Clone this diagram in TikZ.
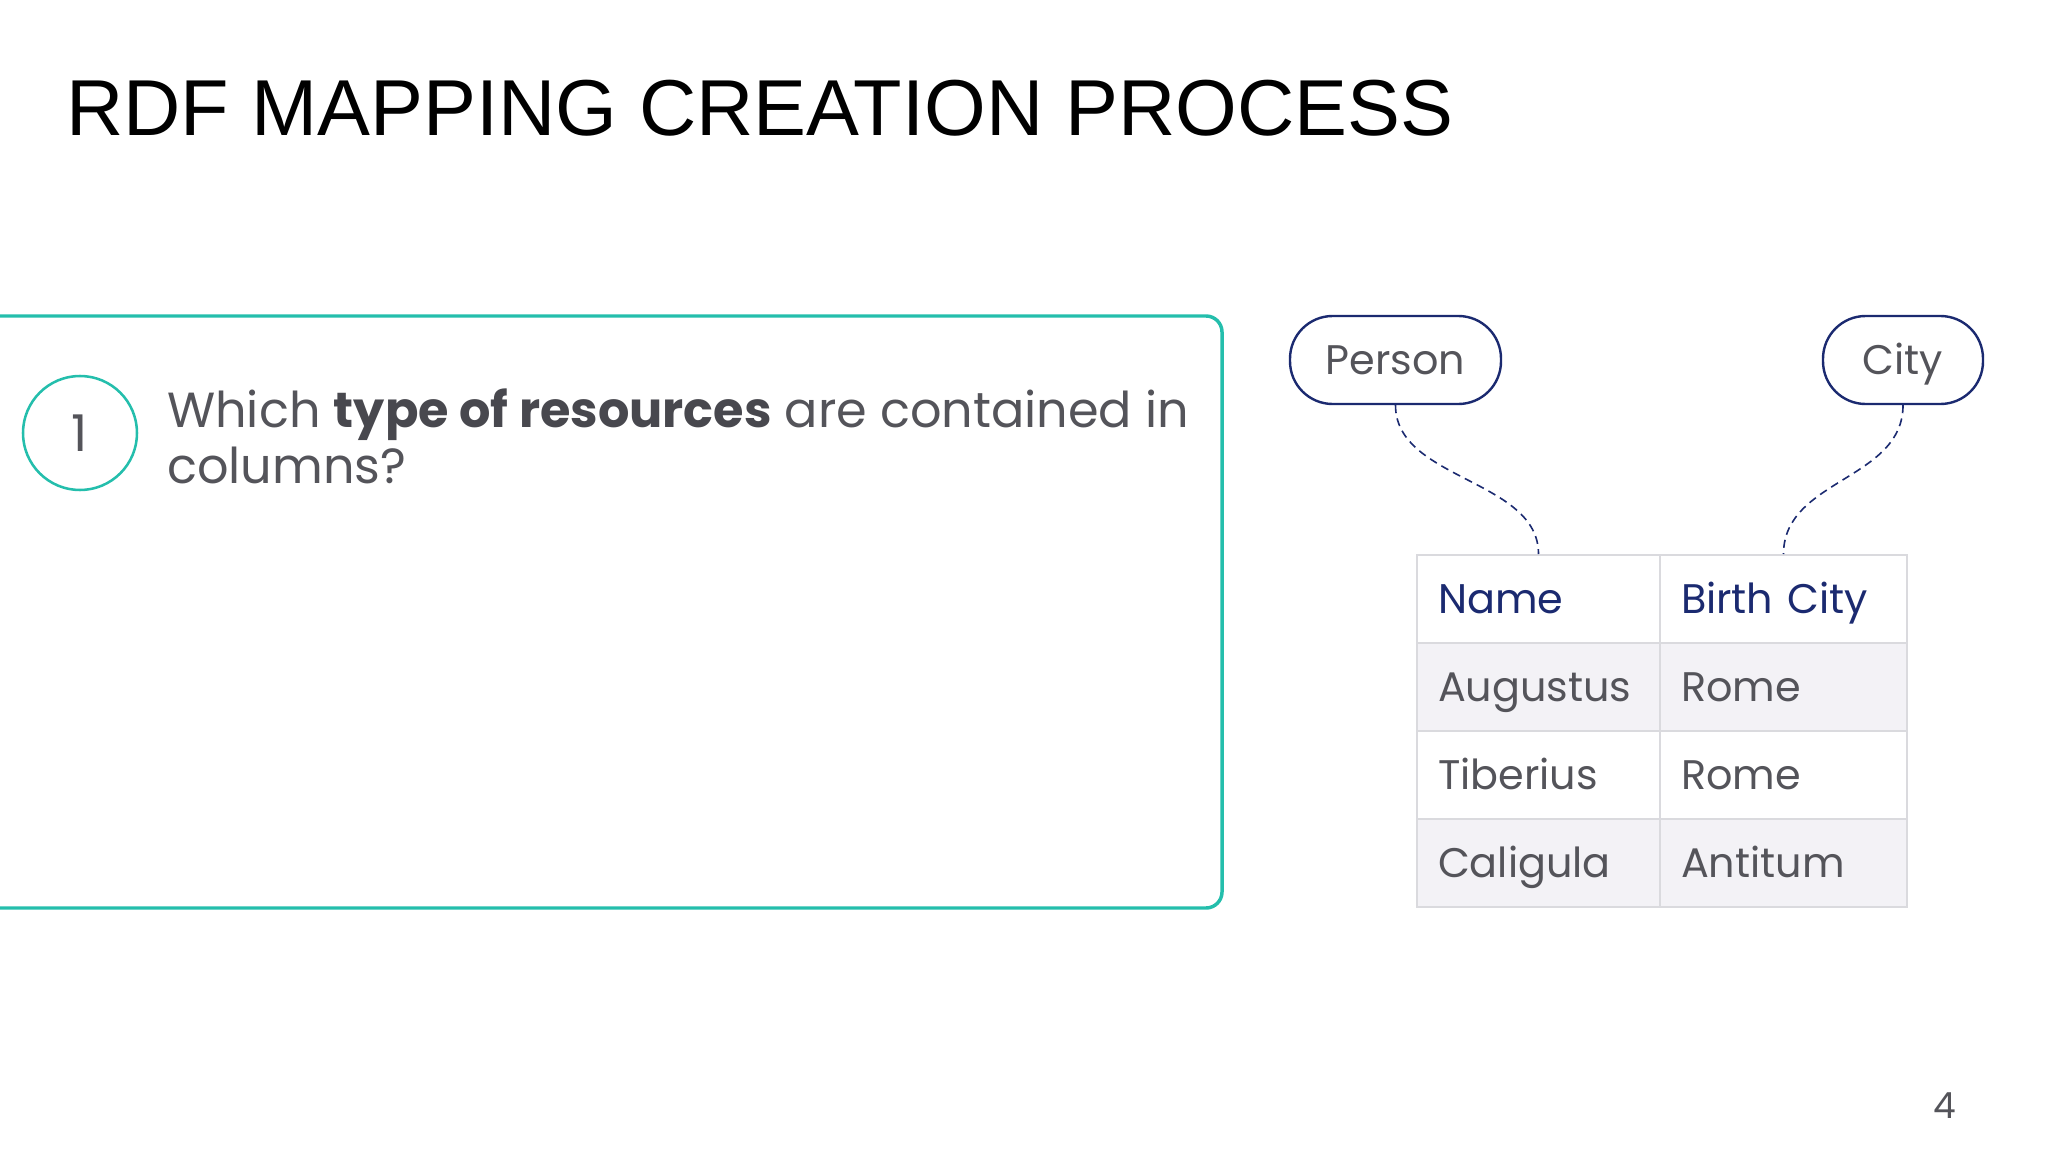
\documentclass[tikz,border=0pt]{standalone}
\usepackage{fontspec}
\setmainfont{Poppins}
\newfontfamily\titlefont{Liberation Sans}
\usepackage{tikz}

\definecolor{tealline}{RGB}{36,190,172}
\definecolor{navyline}{RGB}{27,42,112}
\definecolor{textgray}{RGB}{84,84,90}
\definecolor{boldgray}{RGB}{72,72,78}
\definecolor{gridgray}{RGB}{218,218,222}
\definecolor{cellgray}{RGB}{243,242,246}

\tikzset{
    pill/.style={draw=navyline, line width=1.8pt, rounded corners=32pt, minimum height=66pt, text height=22pt, text depth=0pt, text=textgray, font=\fontsize{31}{31}\selectfont},
    cell/.style={draw=gridgray, line width=1.5pt, minimum height=66pt, inner xsep=15.75pt, align=left, text height=22pt, text depth=0pt, font=\fontsize{31}{31}\selectfont},
    headcell/.style={cell, text=navyline},
    bodycell/.style={cell, text=textgray},
    link/.style={draw=navyline, line width=1.2pt, dash pattern=on 6pt off 4pt}
}

\begin{document}
\begin{tikzpicture}[x=0.75pt,y=0.75pt,yscale=-1,xscale=1]
    \useasboundingbox (0,0) rectangle (2048,1152);
    \clip (0,0) rectangle (2048,1152);
    
    % title
    \node (title) [anchor=base west, inner sep=0, font=\titlefont\fontsize{59.5}{59.5}\selectfont] at (66,136) {RDF MAPPING CREATION PROCESS};
    
    % question box
    \draw  [color=tealline, line width=2.6pt, rounded corners=12pt]  (-40,316) rectangle (1222,908);
    \node (one) [circle, draw=tealline, line width=1.9pt, minimum size=85.5pt, text=textgray, font=\fontsize{38}{38}\selectfont] at (80,433) {1};
    \node (question) [anchor=base west, inner sep=0, align=left, text=textgray, font=\fontsize{37}{42}\selectfont] at (167,483) {Which {\color{boldgray}\textbf{type of resources}} are contained in\\columns?};
    
    % classes
    \node (person) [pill, minimum width=158.25pt] at (1395.5,360) {Person};
    \node (city) [pill, minimum width=120pt] at (1903,360) {City};
    
    % table
    \node (name) [headcell, text width=150.75pt] at (1538.5,599) {Name};
    \node (birthcity) [headcell, text width=153.75pt] at (1783.5,599) {Birth City};
    \node (augustus) [bodycell, fill=cellgray, text width=150.75pt] at (1538.5,687) {Augustus};
    \node (rome1) [bodycell, fill=cellgray, text width=153.75pt] at (1783.5,687) {Rome};
    \node (tiberius) [bodycell, text width=150.75pt] at (1538.5,775) {Tiberius};
    \node (rome2) [bodycell, text width=153.75pt] at (1783.5,775) {Rome};
    \node (caligula) [bodycell, fill=cellgray, text width=150.75pt] at (1538.5,863) {Caligula};
    \node (antitum) [bodycell, fill=cellgray, text width=153.75pt] at (1783.5,863) {Antitum};
    
    % mappings
    \draw [link] (person.south) .. controls +(0,75) and +(0,-75) .. (name.north);
    \draw [link] (city.south) .. controls +(0,75) and +(0,-75) .. (birthcity.north);
    
    \node (pagenum) [anchor=base, inner sep=0, text=textgray, font=\fontsize{27}{27}\selectfont] at (1945,1118) {4};
    
\end{tikzpicture}
\end{document}
